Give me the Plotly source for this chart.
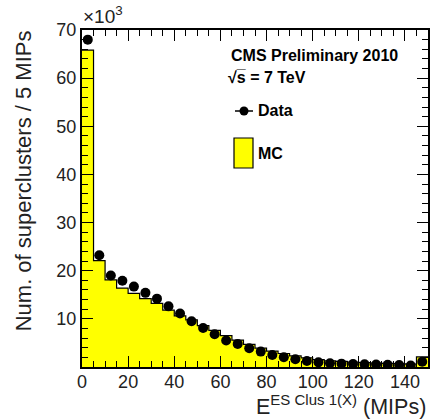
import plotly.graph_objects as go

# Bin edges of the energy histogram (MIPs), 5 MIPs per bin
bin_edges = list(range(0, 155, 5))
bin_centers = [e + 2.5 for e in bin_edges[:-1]]

# Entries per bin, in units of 10^3
data_counts = [68.0, 23.2, 19.0, 17.9, 16.7, 15.4, 14.2, 12.6, 11.1, 9.5,
               8.1, 6.8, 5.5, 4.8, 3.9, 3.2, 2.5, 2.05, 1.6, 1.25,
               0.97, 0.77, 0.7, 0.6, 0.55, 0.5, 0.45, 0.42, 0.3, 1.1]
mc_counts = [65.8, 22.1, 18.1, 16.4, 15.3, 14.2, 13.2, 11.8, 10.6, 9.8,
             8.6, 7.6, 6.5, 5.6, 4.7, 3.9, 3.3, 2.8, 2.3, 1.9,
             1.55, 1.3, 1.15, 1.0, 0.9, 0.8, 0.75, 0.7, 0.6, 2.1]

x_ticks = [0, 20, 40, 60, 80, 100, 120, 140]
y_ticks = [10, 20, 30, 40, 50, 60, 70]

FONT = "Liberation Sans, Arial, Helvetica, sans-serif"

fig = go.Figure()

# MC histogram: filled step outline
fig.add_trace(go.Scatter(
    x=bin_edges,
    y=mc_counts + [mc_counts[-1]],
    mode="lines",
    line=dict(shape="hv", color="black", width=1.2),
    fill="tozeroy",
    fillcolor="#ffff00",
    hoverinfo="skip",
    showlegend=False,
))

# Data points
fig.add_trace(go.Scatter(
    x=bin_centers,
    y=data_counts,
    mode="markers",
    marker=dict(symbol="circle", size=10, color="black"),
    showlegend=False,
))

# Plot area in pixels: x 82..428, y 30..367
L, R, T, B = 82, 428, 30, 367
W, H = R - L, B - T


def px(x):
    return (x - L) / W


def py(y):
    return (B - y) / H


axis_common = dict(
    showline=True, linecolor="black", linewidth=2, mirror="ticks",
    ticks="inside", ticklen=11, tickwidth=1.2, tickcolor="black",
    showgrid=False, zeroline=False,
    tickfont=dict(family=FONT, size=18, color="#222"),
)

fig.update_xaxes(
    range=[0, 150], tickvals=x_ticks, ticklabelstandoff=-3,
    minor=dict(dtick=5, tick0=0, ticks="inside", ticklen=6, tickcolor="black", tickwidth=1.2),
    **axis_common,
)
fig.update_yaxes(
    range=[0, 70], tickvals=y_ticks,
    minor=dict(dtick=2, tick0=0, ticks="inside", ticklen=6, tickcolor="black", tickwidth=1.2),
    **axis_common,
)

annotations = [
    dict(text="×10<sup>3</sup>", x=px(81), y=py(29), xanchor="left", yanchor="bottom",
         font=dict(family=FONT, size=19, color="#222")),
    dict(text="Num. of superclusters / 5 MIPs", textangle=-90,
         x=px(23.5), y=1.005, xanchor="center", yanchor="top",
         font=dict(family=FONT, size=22, color="#222")),
    dict(text="E<sup><span style='font-size:15px'>ES Clus 1(X)</span></sup> (MIPs)",
         x=1, y=py(421), xanchor="right", yanchor="bottom",
         font=dict(family=FONT, size=21.5, color="#222")),
    dict(text="<b>CMS Preliminary 2010</b>", x=px(229), y=py(55),
         xanchor="left", yanchor="middle",
         font=dict(family=FONT, size=16, color="black")),
    dict(text="<b>√s̅ = 7 TeV</b>", x=px(226), y=py(77),
         xanchor="left", yanchor="middle",
         font=dict(family=FONT, size=16, color="black")),
    dict(text="<b>Data</b>", x=px(256), y=py(111),
         xanchor="left", yanchor="middle",
         font=dict(family=FONT, size=16, color="black")),
    dict(text="<b>MC</b>", x=px(256), y=py(153),
         xanchor="left", yanchor="middle",
         font=dict(family=FONT, size=16, color="black")),
]
for a in annotations:
    a.update(xref="paper", yref="paper", showarrow=False)

shapes = [
    # Data legend symbol: short line with a filled circle
    dict(type="line", xref="paper", yref="paper",
         x0=px(235), x1=px(253), y0=py(111), y1=py(111),
         line=dict(color="black", width=1.5)),
    dict(type="circle", xref="paper", yref="paper", xsizemode="pixel", ysizemode="pixel",
         xanchor=px(244), yanchor=py(111), x0=-4.5, x1=4.5, y0=-4.5, y1=4.5,
         fillcolor="black", line=dict(color="black", width=0)),
    # MC legend box
    dict(type="rect", xref="paper", yref="paper",
         x0=px(234), x1=px(253), y0=py(168), y1=py(138),
         fillcolor="#ffff00", line=dict(color="black", width=1.2)),
]

fig.update_layout(
    width=443, height=420,
    margin=dict(l=L, r=443 - R, t=T, b=420 - B),
    paper_bgcolor="white", plot_bgcolor="white",
    annotations=annotations, shapes=shapes,
    font=dict(family=FONT),
    showlegend=False,
)

fig.write_html("out.html")
